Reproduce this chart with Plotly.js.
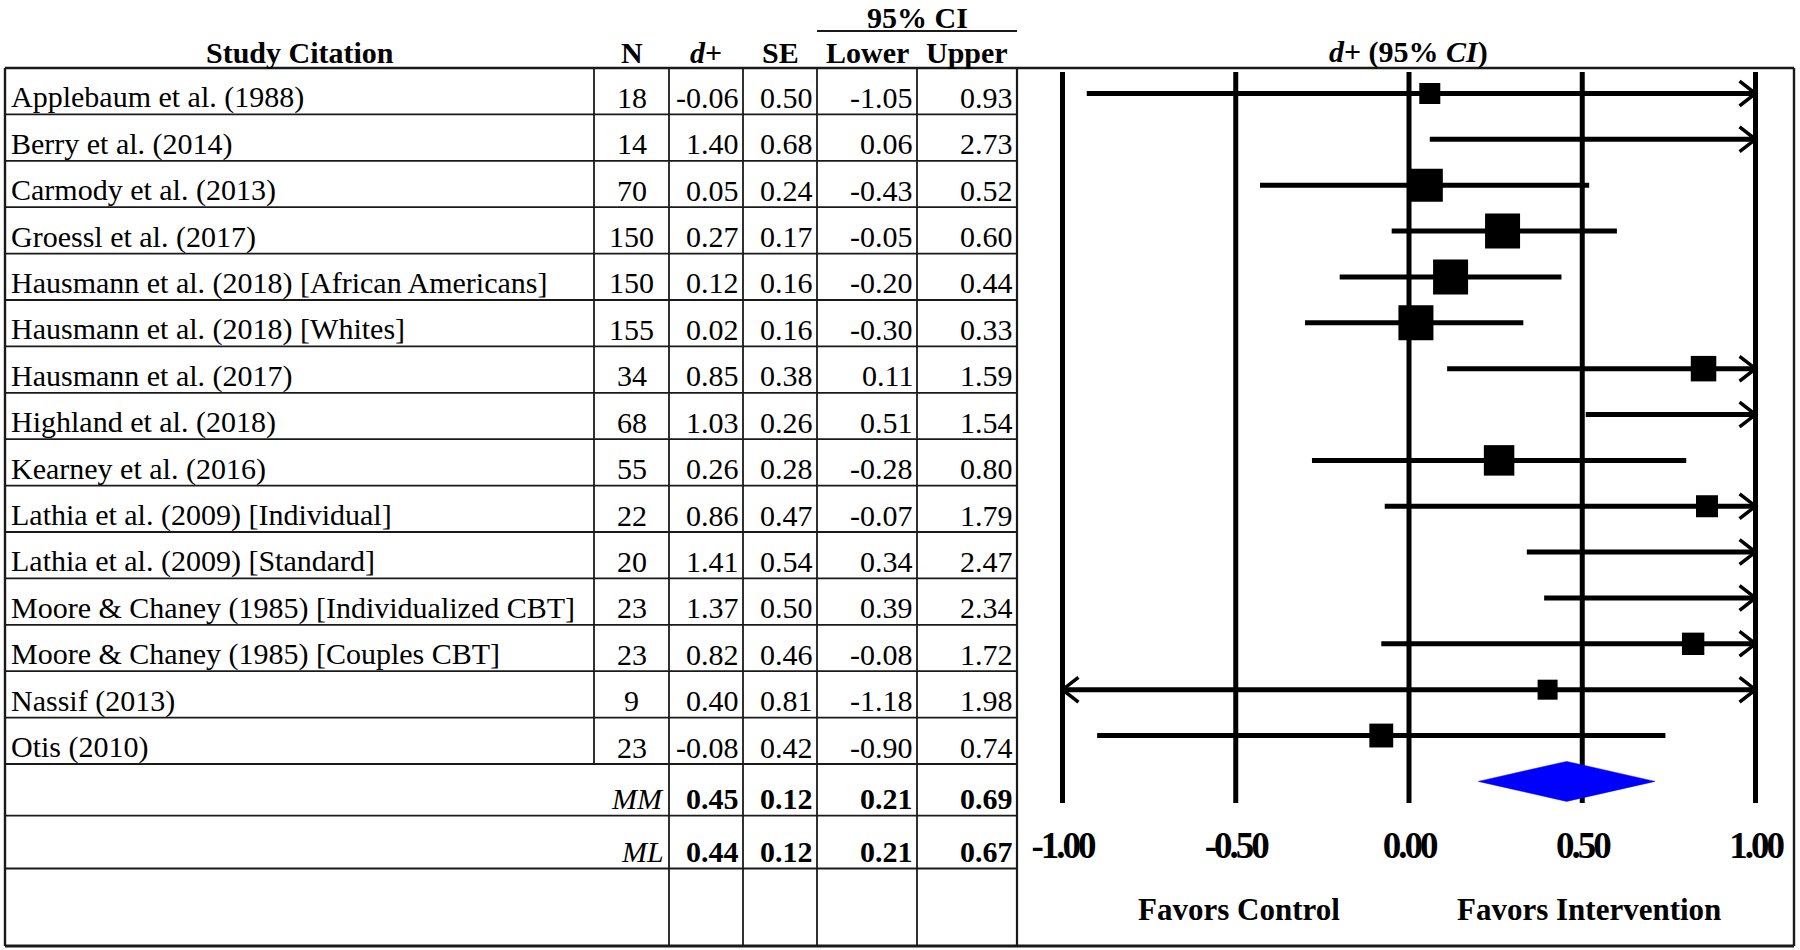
<!DOCTYPE html>
<html>
<head>
<meta charset="utf-8">
<script src="https://cdn.plot.ly/plotly-3.0.1.min.js"></script>
<style>
  html, body { margin: 0; padding: 0; background: #ffffff; }
  #chart { width: 1800px; height: 950px; }
  .xtick text { letter-spacing: -3px; }
</style>
</head>
<body>
<div id="chart"></div>
<script>
// ---------------- data ----------------
const studies = [
  "Applebaum et al. (1988)",
  "Berry et al. (2014)",
  "Carmody et al. (2013)",
  "Groessl et al. (2017)",
  "Hausmann et al. (2018) [African Americans]",
  "Hausmann et al. (2018) [Whites]",
  "Hausmann et al. (2017)",
  "Highland et al. (2018)",
  "Kearney et al. (2016)",
  "Lathia et al. (2009) [Individual]",
  "Lathia et al. (2009) [Standard]",
  "Moore & Chaney (1985) [Individualized CBT]",
  "Moore & Chaney (1985) [Couples CBT]",
  "Nassif (2013)",
  "Otis (2010)"
];
const nValues     = [18, 14, 70, 150, 150, 155, 34, 68, 55, 22, 20, 23, 23, 9, 23];
const dValues     = [-0.06, 1.40, 0.05, 0.27, 0.12, 0.02, 0.85, 1.03, 0.26, 0.86, 1.41, 1.37, 0.82, 0.40, -0.08];
const seValues    = [0.50, 0.68, 0.24, 0.17, 0.16, 0.16, 0.38, 0.26, 0.28, 0.47, 0.54, 0.50, 0.46, 0.81, 0.42];
const lowerValues = [-1.05, 0.06, -0.43, -0.05, -0.20, -0.30, 0.11, 0.51, -0.28, -0.07, 0.34, 0.39, -0.08, -1.18, -0.90];
const upperValues = [0.93, 2.73, 0.52, 0.60, 0.44, 0.33, 1.59, 1.54, 0.80, 1.79, 2.47, 2.34, 1.72, 1.98, 0.74];

// values as they are drawn in the forest plot of the reference
const plotD  = [0.06, 1.40, 0.05, 0.27, 0.12, 0.02, 0.85, 1.03, 0.26, 0.86, 1.41, 1.37, 0.82, 0.40, -0.08];
const plotLo = [-0.93, 0.06, -0.43, -0.05, -0.20, -0.30, 0.11, 0.51, -0.28, -0.07, 0.34, 0.39, -0.08, -1.18, -0.90];
const plotHi = [1.05, 2.73, 0.52, 0.60, 0.44, 0.33, 1.59, 1.54, 0.80, 1.79, 2.47, 2.34, 1.72, 1.98, 0.74];

const summaryLabels = ["MM", "ML"];
const mmValues = [0.45, 0.12, 0.21, 0.69];
const mlValues = [0.44, 0.12, 0.21, 0.67];
const diamondX = [0.20, 0.455, 0.71];   // lower, estimate, upper as drawn

const headerLabels = ["Study Citation", "N", "<i>d</i>+", "SE", "Lower", "Upper"];
const ciHeader = "95% CI";
const plotTitle = "<i>d</i>+ (95% <i>CI</i>)";
const tickVals = [-1, -0.5, 0, 0.5, 1];
const tickText = ["-1.00", "-0.50", "0.00", "0.50", "1.00"];
const sideLabels = ["Favors Control", "Favors Intervention"];

// ---------------- layout helpers (pixels -> paper) ----------------
const W = 1800, H = 950;
const PX = x => x / W;
const PY = y => 1 - y / H;
const FONT = "Liberation Serif, Times New Roman, serif";
const LINE = "#1a1a1a";

const tableLeft = 5, tableTop = 68, tableBottom = 946, boxRight = 1794;
const rowH = 46.4;
const colLines = [594, 669, 743, 817, 917, 1017];
const studyRowsBottom = tableTop + studies.length * rowH;
const summaryBottoms = [studyRowsBottom + 51.7, studyRowsBottom + 104.5];

const shapes = [];
function hline(y, x0, x1, w) {
  shapes.push({type: "line", xref: "paper", yref: "paper", x0: PX(x0), x1: PX(x1), y0: PY(y), y1: PY(y),
    line: {color: LINE, width: w}});
}
function vline(x, y0, y1, w) {
  shapes.push({type: "line", xref: "paper", yref: "paper", x0: PX(x), x1: PX(x), y0: PY(y0), y1: PY(y1),
    line: {color: LINE, width: w}});
}
// row boundaries
for (let k = 1; k <= studies.length; k++) hline(tableTop + k * rowH, tableLeft, colLines[5], 1.8);
summaryBottoms.forEach(y => hline(y, tableLeft, colLines[5], 1.8));
// column lines
vline(colLines[0], tableTop, studyRowsBottom, 1.8);
for (let c = 1; c <= 4; c++) vline(colLines[c], tableTop, tableBottom, 1.8);
vline(colLines[5], tableTop, tableBottom, 2.2);
// outer border
hline(tableTop, tableLeft, boxRight, 2.4);
hline(tableBottom, tableLeft, boxRight, 2.8);
vline(tableLeft, tableTop, tableBottom, 2.4);
vline(boxRight, tableTop, tableBottom, 2.4);
// 95% CI underline
hline(31, colLines[3], colLines[5], 2);

// ---------------- annotations (table text) ----------------
const ann = [];
function txt(text, x, y, anchor, size, extra) {
  ann.push(Object.assign({xref: "paper", yref: "paper", x: PX(x), y: PY(y), xanchor: anchor, yanchor: "middle",
    text: text, showarrow: false, font: {family: FONT, size: size, color: "#000"}}, extra || {}));
}
// headers
const headerY = 52;
const headerX = [(tableLeft + colLines[0]) / 2];
for (let c = 0; c < 5; c++) headerX.push((colLines[c] + colLines[c + 1]) / 2);
headerLabels.forEach((h, i) => txt("<b>" + h + "</b>", headerX[i], headerY, "center", 30));
txt("<b>" + ciHeader + "</b>", (colLines[3] + colLines[5]) / 2, 17, "center", 30);
txt("<b>" + plotTitle + "</b>", 1408, headerY, "center", 30);

const f2 = v => v.toFixed(2);
studies.forEach((s, i) => {
  const yc = tableTop + (i + 1) * rowH - 17;
  txt(s, 9, yc, "left", 30);
  txt(String(nValues[i]), (colLines[0] + colLines[1]) / 2, yc, "center", 30);
  txt(f2(dValues[i]), colLines[2] - 2, yc, "right", 30);
  txt(f2(seValues[i]), colLines[3] - 2, yc, "right", 30);
  txt(f2(lowerValues[i]), colLines[4] - 2, yc, "right", 30);
  txt(f2(upperValues[i]), colLines[5] - 2, yc, "right", 30);
});
[mmValues, mlValues].forEach((vals, r) => {
  const yc = summaryBottoms[r] - 17;
  txt("<i>" + summaryLabels[r] + "</i>", colLines[1] - 3, yc, "right", 30);
  vals.forEach((v, c) => txt("<b>" + f2(v) + "</b>", colLines[c + 2] - 2, yc, "right", 30));
});
// side labels under the forest plot
txt("<b>" + sideLabels[0] + "</b>", 1239, 909, "center", 31);
txt("<b>" + sideLabels[1] + "</b>", 1589, 909, "center", 31);

// ---------------- forest plot traces ----------------
const gridTop = -0.47, gridBottom = 15.47;
const gx = [], gy = [];
tickVals.forEach(t => { gx.push(t, t, null); gy.push(gridTop, gridBottom, null); });

const cx = [], cy = [];
const ax = [], ay = [];
const aw = 0.046, ah = 0.27;
plotD.forEach((d, i) => {
  const lo = Math.max(plotLo[i], -1), hi = Math.min(plotHi[i], 1);
  cx.push(lo, hi, null); cy.push(i, i, null);
  if (plotHi[i] > 1) { ax.push(1 - aw, 1, 1 - aw, null); ay.push(i - ah, i, i + ah, null); }
  if (plotLo[i] < -1) { ax.push(-1 + aw, -1, -1 + aw, null); ay.push(i - ah, i, i + ah, null); }
});
const rowIdx = plotD.map((d, i) => i);
const sqX = plotD.map(d => (d >= -1 && d <= 1) ? d : null);
const sqSize = seValues.map(se => Math.max(20, Math.min(35, 9.7 + 8.16 * Math.log(1 / (se * se)))));

const dRow = studies.length;
const dh = 0.436;
const traces = [
  {x: gx, y: gy, mode: "lines", line: {color: "#000", width: 5}, hoverinfo: "skip", showlegend: false},
  {x: cx, y: cy, mode: "lines", line: {color: "#000", width: 5}, hoverinfo: "skip", showlegend: false},
  {x: ax, y: ay, mode: "lines", line: {color: "#000", width: 3.5}, hoverinfo: "skip", showlegend: false},
  {x: sqX, y: rowIdx, mode: "markers",
   marker: {symbol: "square", size: sqSize, color: "#000", opacity: 1, line: {width: 0}},
   text: studies, hoverinfo: "text+x", showlegend: false},
  {x: [diamondX[0], diamondX[1], diamondX[2], diamondX[1], diamondX[0]],
   y: [dRow, dRow - dh, dRow, dRow + dh, dRow],
   mode: "lines", fill: "toself", fillcolor: "#0000ff", line: {color: "#0000ff", width: 0.5},
   hoverinfo: "skip", showlegend: false}
];

// x axis: -1 -> 1062.5 px, +1 -> 1755.5 px, domain 1017..1794 px
const xPerPx = 2 / 693;
const xMin = -1 - (1062.5 - 1017) * xPerPx;
const xMax = xMin + (1794 - 1017) * xPerPx;
// y axis: row i centre at 93.5 + 45.86*i px, domain 68..946 px
const yTopIdx = (68 - 93.5) / 45.86, yBotIdx = (946 - 93.5) / 45.86;

const layout = {
  width: W, height: H,
  margin: {l: 0, r: 0, t: 0, b: 0},
  paper_bgcolor: "#ffffff", plot_bgcolor: "rgba(0,0,0,0)",
  font: {family: FONT, color: "#000"},
  xaxis: {
    domain: [PX(1017), PX(1794)], range: [xMin, xMax],
    anchor: "free", position: PY(820),
    showgrid: false, zeroline: false, showline: false, ticks: "",
    tickmode: "array", tickvals: tickVals, ticktext: tickText,
    tickfont: {family: FONT, size: 37, color: "#000", weight: "bold"},
    fixedrange: true
  },
  yaxis: {
    domain: [PY(946), PY(68)], range: [yBotIdx, yTopIdx],
    visible: false, fixedrange: true
  },
  shapes: shapes,
  annotations: ann,
  showlegend: false
};

Plotly.newPlot("chart", traces, layout, {displayModeBar: false, staticPlot: true});
</script>
</body>
</html>
